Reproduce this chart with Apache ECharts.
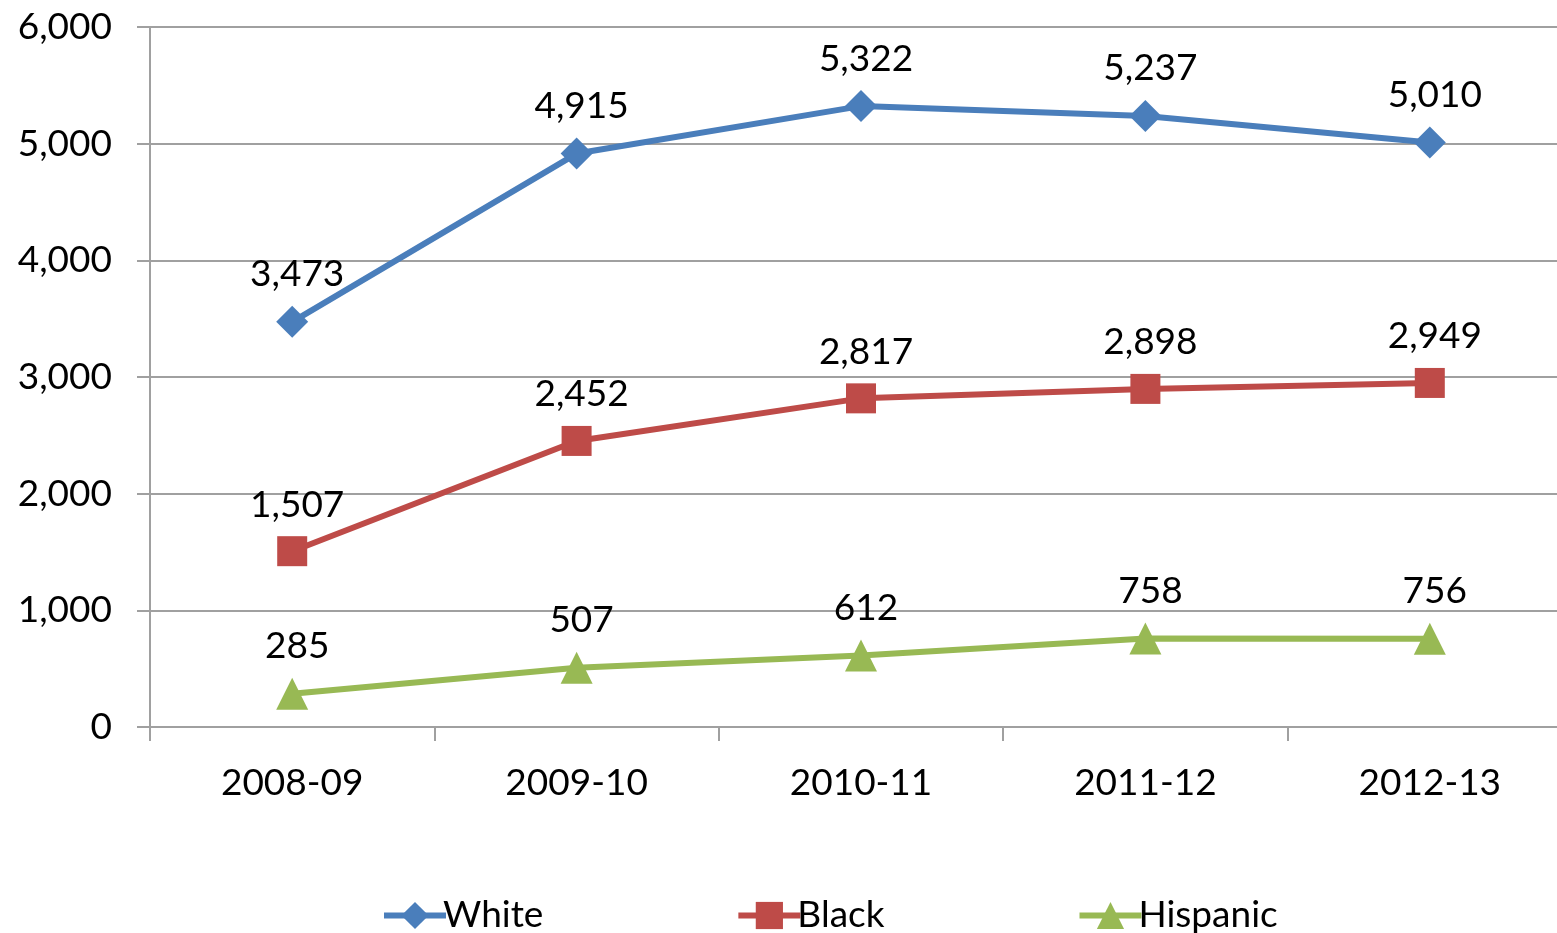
<!DOCTYPE html>
<html><head><meta charset="utf-8">
<script src="https://cdn.jsdelivr.net/npm/echarts@6/dist/echarts.min.js"></script>
<style>html,body{margin:0;padding:0;background:#fff}#c{width:1557px;height:933px}</style>
</head><body><div id="c"></div>
<script>
const categories = ['2008-09','2009-10','2010-11','2011-12','2012-13'];
const white = [3473, 4915, 5322, 5237, 5010];
const black = [1507, 2452, 2817, 2898, 2949];
const hispanic = [285, 507, 612, 758, 756];

const FONT = 'Lato, "Open Sans", sans-serif';
const grey = '#a0a0a0';
function fmt(v){ return v.toLocaleString('en-US'); }
function mk(name, data, color, symbol, size){
  return {
    name, type:'line', data, symbol, symbolSize:size,
    lineStyle:{color, width:6}, itemStyle:{color},
    label:{show:true, position:'top', distance:13, offset:[5,0], color:'#000', fontSize:37, fontFamily:FONT,
      formatter:p=>fmt(p.value)},
    emphasis:{disabled:true}
  };
}
const chart = echarts.init(document.getElementById('c'));
chart.setOption({
  animation:false,
  grid:{left:150, top:27, width:1422, height:700, outerBoundsMode:'none', containLabel:false},
  xAxis:{type:'category', data:categories, boundaryGap:true,
    axisLine:{lineStyle:{color:grey, width:2}},
    axisTick:{show:true, length:14, inside:false, lineStyle:{color:grey,width:2}},
    axisLabel:{color:'#000', fontSize:37, fontFamily:FONT, margin:38}},
  yAxis:{type:'value', min:0, max:6000, interval:1000,
    axisLine:{show:true, lineStyle:{color:grey, width:2}},
    axisTick:{show:true, length:13, lineStyle:{color:grey,width:2}},
    splitLine:{lineStyle:{color:grey, width:2}},
    axisLabel:{color:'#000', fontSize:37, fontFamily:FONT, margin:38, formatter:v=>fmt(v)}},
  legend:{top:892, left:376, itemGap:192, itemWidth:62, itemHeight:34,
    lineStyle:{width:6},
    textStyle:{color:'#000', fontSize:37, fontFamily:FONT, padding:[0,0,0,-8]},
    data:['White','Black','Hispanic']},
  series:[
    mk('White', white, '#4a7ebb', 'diamond', 32),
    mk('Black', black, '#be4b48', 'rect', 30),
    mk('Hispanic', hispanic, '#98b954', 'triangle', 32)
  ]
});
</script></body></html>
